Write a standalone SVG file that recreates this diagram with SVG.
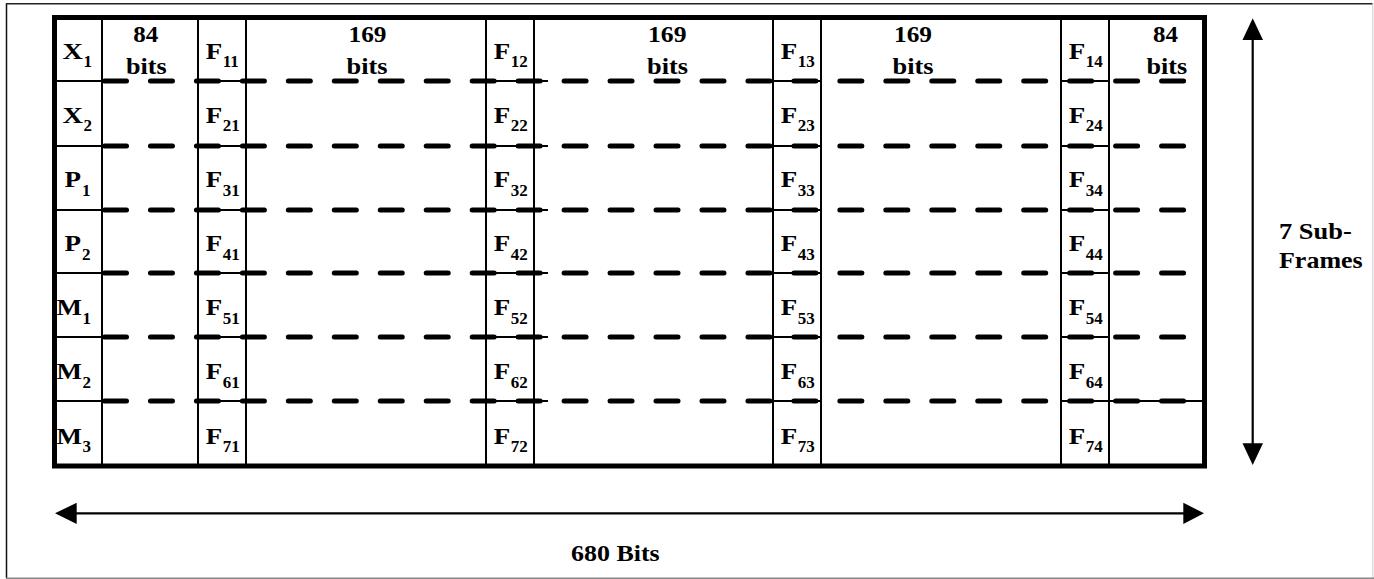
<svg xmlns="http://www.w3.org/2000/svg" width="1374" height="579" viewBox="0 0 1374 579">
<style>
text{font-family:"Liberation Serif","Times New Roman",serif;font-weight:bold;font-size:23.5px;fill:#000}
.sub{font-size:17px}
.grid{stroke:#000;stroke-width:2;fill:none}
.thin{stroke:#000;stroke-width:1.8;fill:none}
.dash{stroke:#000;stroke-width:5;stroke-dasharray:22 23.96;stroke-linecap:round;fill:none}
.arrow{stroke:#000;stroke-width:2.2;fill:none}
</style>
<rect width="1374" height="579" fill="#fff"/>
<g id="border">
<line x1="6.5" y1="3.5" x2="6.5" y2="578" stroke="#111" stroke-width="1.5"/>
<line x1="6" y1="3.8" x2="1373" y2="3.8" stroke="#222" stroke-width="1.5"/>
<line x1="1372.8" y1="3" x2="1372.8" y2="579" stroke="#ccc" stroke-width="1"/>
<line x1="6" y1="578.3" x2="1374" y2="578.3" stroke="#888" stroke-width="1.5"/>
</g>
<g id="table">
<g id="columns" class="grid">
<line x1="102" y1="17" x2="102" y2="466"/>
<line x1="198" y1="17" x2="198" y2="466"/>
<line x1="246" y1="17" x2="246" y2="466"/>
<line x1="486" y1="17" x2="486" y2="466"/>
<line x1="534" y1="17" x2="534" y2="466"/>
<line x1="773" y1="17" x2="773" y2="466"/>
<line x1="821" y1="17" x2="821" y2="466"/>
<line x1="1061" y1="17" x2="1061" y2="466"/>
<line x1="1109" y1="17" x2="1109" y2="466"/>
</g>
<g id="thin-rows" class="thin">
<path d="M54 81H102M198 81H246M486 81H548M773 81H821M1061 81H1109"/>
<path d="M54 146H102M198 146H246M486 146H548M773 146H821M1061 146H1109"/>
<path d="M54 210H102M198 210H246M486 210H548M773 210H821M1061 210H1109"/>
<path d="M54 273H102M198 273H246M486 273H548M773 273H821M1061 273H1109"/>
<path d="M54 337H102M198 337H246M486 337H548M773 337H821M1061 337H1109"/>
<path d="M54 401H102M198 401H246M486 401H548M773 401H821M1061 401H1205"/>
</g>
<g id="dashed-rows" class="dash">
<line x1="104.5" y1="81" x2="1186" y2="81"/>
<line x1="104.5" y1="146" x2="1186" y2="146"/>
<line x1="104.5" y1="210" x2="1186" y2="210"/>
<line x1="104.5" y1="273" x2="1186" y2="273"/>
<line x1="104.5" y1="337" x2="1186" y2="337"/>
<line x1="104.5" y1="401" x2="1186" y2="401"/>
</g>
<rect x="54.5" y="17.5" width="1150" height="448.5" fill="none" stroke="#000" stroke-width="5"/>
</g>
<g id="row-labels">
<text x="62.5" y="58.7" textLength="20.5" lengthAdjust="spacingAndGlyphs">X</text><text class="sub" x="83.5" y="67.3">1</text>
<text x="62.5" y="122.8" textLength="20.5" lengthAdjust="spacingAndGlyphs">X</text><text class="sub" x="83.5" y="131.4">2</text>
<text x="64.5" y="187" textLength="16.5" lengthAdjust="spacingAndGlyphs">P</text><text class="sub" x="82" y="195.6">1</text>
<text x="56.5" y="315.3" textLength="25.5" lengthAdjust="spacingAndGlyphs">M</text><text class="sub" x="82.5" y="323.9">1</text>
<text x="64.5" y="251.1" textLength="16.5" lengthAdjust="spacingAndGlyphs">P</text><text class="sub" x="82" y="259.7">2</text>
<text x="56.5" y="379.4" textLength="25.5" lengthAdjust="spacingAndGlyphs">M</text><text class="sub" x="82.5" y="388">2</text>
<text x="56.5" y="443.5" textLength="25.5" lengthAdjust="spacingAndGlyphs">M</text><text class="sub" x="82.5" y="452.1">3</text>
</g>
<g id="bit-labels">
<text x="133.3" y="42.3" textLength="25" lengthAdjust="spacingAndGlyphs">84</text>
<text x="126" y="74" textLength="40.7" lengthAdjust="spacingAndGlyphs">bits</text>
<text x="348.5" y="42.3" textLength="38" lengthAdjust="spacingAndGlyphs">169</text>
<text x="346.5" y="74" textLength="41" lengthAdjust="spacingAndGlyphs">bits</text>
<text x="648" y="42.3" textLength="38.5" lengthAdjust="spacingAndGlyphs">169</text>
<text x="647" y="74" textLength="41" lengthAdjust="spacingAndGlyphs">bits</text>
<text x="894" y="42.3" textLength="38" lengthAdjust="spacingAndGlyphs">169</text>
<text x="892.5" y="74" textLength="41" lengthAdjust="spacingAndGlyphs">bits</text>
<text x="1153" y="42.3" textLength="25" lengthAdjust="spacingAndGlyphs">84</text>
<text x="1146.5" y="74" textLength="40.7" lengthAdjust="spacingAndGlyphs">bits</text>
</g>
<g id="f-col1">
<text x="205.8" y="58.7" textLength="16.5" lengthAdjust="spacingAndGlyphs">F</text><text class="sub" x="222.8" y="67.3">11</text>
<text x="205.8" y="122.8" textLength="16.5" lengthAdjust="spacingAndGlyphs">F</text><text class="sub" x="222.8" y="131.4">21</text>
<text x="205.8" y="187" textLength="16.5" lengthAdjust="spacingAndGlyphs">F</text><text class="sub" x="222.8" y="195.6">31</text>
<text x="205.8" y="251.1" textLength="16.5" lengthAdjust="spacingAndGlyphs">F</text><text class="sub" x="222.8" y="259.7">41</text>
<text x="205.8" y="315.3" textLength="16.5" lengthAdjust="spacingAndGlyphs">F</text><text class="sub" x="222.8" y="323.9">51</text>
<text x="205.8" y="379.4" textLength="16.5" lengthAdjust="spacingAndGlyphs">F</text><text class="sub" x="222.8" y="388">61</text>
<text x="205.8" y="443.5" textLength="16.5" lengthAdjust="spacingAndGlyphs">F</text><text class="sub" x="222.8" y="452.1">71</text>
</g>
<g id="f-col2">
<text x="493.8" y="58.7" textLength="16.5" lengthAdjust="spacingAndGlyphs">F</text><text class="sub" x="510.8" y="67.3">12</text>
<text x="493.8" y="122.8" textLength="16.5" lengthAdjust="spacingAndGlyphs">F</text><text class="sub" x="510.8" y="131.4">22</text>
<text x="493.8" y="187" textLength="16.5" lengthAdjust="spacingAndGlyphs">F</text><text class="sub" x="510.8" y="195.6">32</text>
<text x="493.8" y="251.1" textLength="16.5" lengthAdjust="spacingAndGlyphs">F</text><text class="sub" x="510.8" y="259.7">42</text>
<text x="493.8" y="315.3" textLength="16.5" lengthAdjust="spacingAndGlyphs">F</text><text class="sub" x="510.8" y="323.9">52</text>
<text x="493.8" y="379.4" textLength="16.5" lengthAdjust="spacingAndGlyphs">F</text><text class="sub" x="510.8" y="388">62</text>
<text x="493.8" y="443.5" textLength="16.5" lengthAdjust="spacingAndGlyphs">F</text><text class="sub" x="510.8" y="452.1">72</text>
</g>
<g id="f-col3">
<text x="780.8" y="58.7" textLength="16.5" lengthAdjust="spacingAndGlyphs">F</text><text class="sub" x="797.8" y="67.3">13</text>
<text x="780.8" y="122.8" textLength="16.5" lengthAdjust="spacingAndGlyphs">F</text><text class="sub" x="797.8" y="131.4">23</text>
<text x="780.8" y="187" textLength="16.5" lengthAdjust="spacingAndGlyphs">F</text><text class="sub" x="797.8" y="195.6">33</text>
<text x="780.8" y="251.1" textLength="16.5" lengthAdjust="spacingAndGlyphs">F</text><text class="sub" x="797.8" y="259.7">43</text>
<text x="780.8" y="315.3" textLength="16.5" lengthAdjust="spacingAndGlyphs">F</text><text class="sub" x="797.8" y="323.9">53</text>
<text x="780.8" y="379.4" textLength="16.5" lengthAdjust="spacingAndGlyphs">F</text><text class="sub" x="797.8" y="388">63</text>
<text x="780.8" y="443.5" textLength="16.5" lengthAdjust="spacingAndGlyphs">F</text><text class="sub" x="797.8" y="452.1">73</text>
</g>
<g id="f-col4">
<text x="1068.8" y="58.7" textLength="16.5" lengthAdjust="spacingAndGlyphs">F</text><text class="sub" x="1085.8" y="67.3">14</text>
<text x="1068.8" y="122.8" textLength="16.5" lengthAdjust="spacingAndGlyphs">F</text><text class="sub" x="1085.8" y="131.4">24</text>
<text x="1068.8" y="187" textLength="16.5" lengthAdjust="spacingAndGlyphs">F</text><text class="sub" x="1085.8" y="195.6">34</text>
<text x="1068.8" y="251.1" textLength="16.5" lengthAdjust="spacingAndGlyphs">F</text><text class="sub" x="1085.8" y="259.7">44</text>
<text x="1068.8" y="315.3" textLength="16.5" lengthAdjust="spacingAndGlyphs">F</text><text class="sub" x="1085.8" y="323.9">54</text>
<text x="1068.8" y="379.4" textLength="16.5" lengthAdjust="spacingAndGlyphs">F</text><text class="sub" x="1085.8" y="388">64</text>
<text x="1068.8" y="443.5" textLength="16.5" lengthAdjust="spacingAndGlyphs">F</text><text class="sub" x="1085.8" y="452.1">74</text>
</g>
<g id="connectors">
<line class="arrow" x1="1252.7" y1="38" x2="1252.7" y2="446"/>
<polygon points="1252.7,18.3 1242.5,40 1263,40" fill="#000"/>
<polygon points="1252.7,465 1242.5,443.3 1263,443.3" fill="#000"/>
<line class="arrow" x1="74" y1="513.3" x2="1186" y2="513.3"/>
<polygon points="55,513.3 76.7,502.7 76.7,524" fill="#000"/>
<polygon points="1204,513.3 1183.3,502.7 1183.3,524" fill="#000"/>
</g>
<g id="axis-labels">
<text x="1279" y="239.3" textLength="72.7" lengthAdjust="spacingAndGlyphs">7 Sub-</text>
<text x="1279" y="268.3" textLength="83.7" lengthAdjust="spacingAndGlyphs">Frames</text>
<text x="571" y="561" textLength="88.7" lengthAdjust="spacingAndGlyphs">680 Bits</text>
</g>
</svg>
